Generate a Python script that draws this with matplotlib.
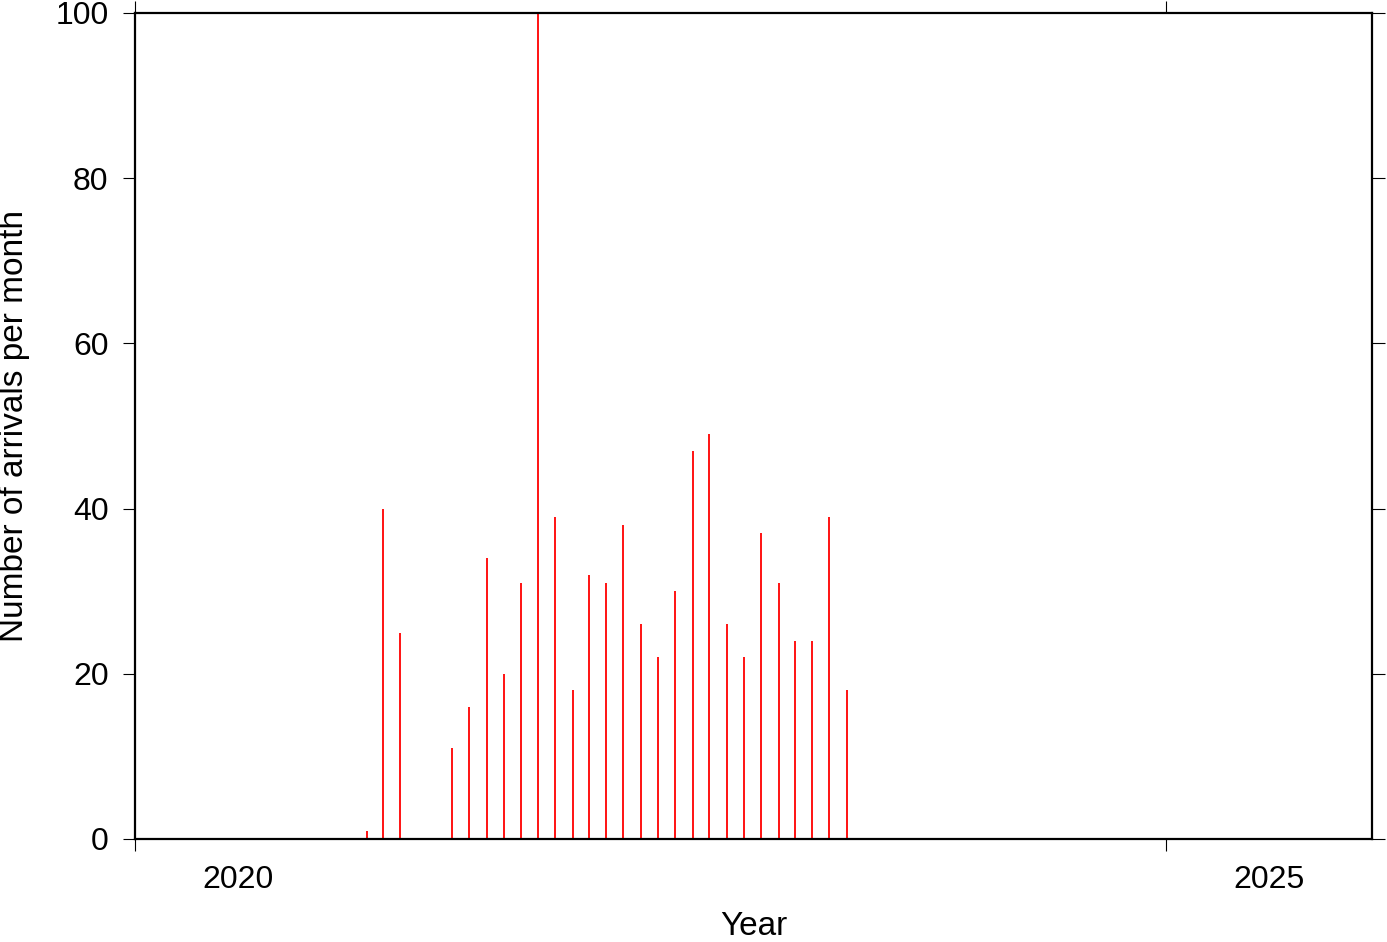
from datetime import datetime

import numpy as np
import matplotlib
matplotlib.use("Agg")
import matplotlib.pyplot as plt

# Monthly arrival counts, starting February 2021
first_month = (2021, 2)
counts = [1, 40, 25, 0, 0, 11, 16, 34, 20, 31, 100, 39, 18, 32, 31,
          38, 26, 22, 30, 47, 49, 26, 22, 37, 31, 24, 24, 39, 18]
year_ticks = [2020, 2025]
year_labels = ["2020", "2025"]
y_ticks = [0, 20, 40, 60, 80, 100]


def month_mid(i):
    y, m = first_month
    m = m - 1 + i
    return datetime(y + m // 12, m % 12 + 1, 15)


plt.rcParams["font.family"] = ["Liberation Sans", "DejaVu Sans"]
plt.rcParams["font.size"] = 23

fig = plt.figure(figsize=(13.87, 9.42), dpi=100)
ax = fig.add_axes([135 / 1387, 103 / 942, 1237 / 1387, 826 / 942])

dates = [month_mid(i) for i in range(len(counts))]
vals = np.array(counts)
mask = vals > 0
ax.vlines(np.array(dates)[mask], 0, vals[mask], color="red", lw=1.3)

ax.set_xlim(datetime(2020, 1, 1), datetime(2026, 1, 1))
ax.set_ylim(0, 100)

# major ticks at year start, labels centred on the year (GMT style)
ax.set_xticks([datetime(y, 1, 1) for y in year_ticks])
ax.set_xticklabels([])
ax.set_xticks([datetime(y, 7, 2) for y in year_ticks], minor=True)
ax.set_xticklabels(year_labels, minor=True)
ax.tick_params(axis="x", which="major", direction="out", length=8.5,
               width=0.8, top=True)
ax.tick_params(axis="x", which="minor", length=0, pad=19)

ax.set_yticks(y_ticks)
ax.tick_params(axis="y", direction="out", length=9, width=0.8,
               right=True, pad=10)

for sp in ax.spines.values():
    sp.set_linewidth(1.6)

ax.set_xlabel("Year", fontsize=24, labelpad=11)
ax.set_ylabel("Number of arrivals per month", fontsize=24, labelpad=18)

fig.savefig("out.png", dpi=100)
